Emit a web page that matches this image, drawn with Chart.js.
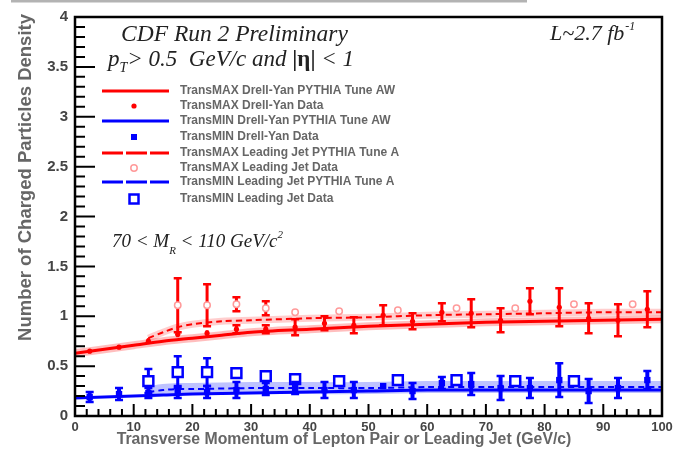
<!DOCTYPE html>
<html>
<head>
<meta charset="utf-8">
<script src="https://cdn.jsdelivr.net/npm/chart.js@4/dist/chart.umd.min.js"></script>
<style>
  html, body { margin: 0; padding: 0; background: #fff; }
  #wrap { position: relative; width: 677px; height: 457px; }
</style>
</head>
<body>
<div id="wrap"><canvas id="c" width="677" height="457"></canvas></div>
<script>
// ---- Drell-Yan bins (5 GeV/c wide) ----
const dyX = [2.5, 7.5, 12.5, 17.5, 22.5, 27.5, 32.5, 37.5, 42.5, 47.5,
             52.5, 57.5, 62.5, 67.5, 72.5, 77.5, 82.5, 87.5, 92.5, 97.5];
const dyMaxData = [0.65, 0.69, 0.75, 0.82, 0.83, 0.87, 0.87, 0.89, 0.93, 0.91,
                   1.01, 0.95, 1.04, 1.03, 0.96, 1.15, 1.09, 0.98, 0.96, 1.07];
const dyMaxErr  = [0.02, 0.02, 0.03, 0.03, 0.03, 0.04, 0.04, 0.08, 0.07, 0.08,
                   0.10, 0.08, 0.09, 0.14, 0.12, 0.13, 0.19, 0.15, 0.16, 0.18];
const dyMinData = [0.19, 0.22, 0.23, 0.24, 0.24, 0.26, 0.27, 0.28, 0.26, 0.26,
                   0.30, 0.25, 0.33, 0.32, 0.28, 0.28, 0.36, 0.25, 0.28, 0.36];
const dyMinErr  = [0.05, 0.06, 0.05, 0.06, 0.06, 0.08, 0.06, 0.06, 0.08, 0.08,
                   0.03, 0.08, 0.06, 0.11, 0.12, 0.10, 0.17, 0.12, 0.10, 0.09];

// ---- Leading-jet data ----
const ljMaxX    = [17.5, 22.5, 27.5, 32.5, 37.5, 45, 55, 65, 75, 85, 95];
const ljMaxData = [1.11, 1.11, 1.12, 1.08, 1.04, 1.05, 1.06, 1.08, 1.08, 1.12, 1.12];
const ljMaxErr  = [0.27, 0.21, 0.07, 0.07, 0.02, 0.02, 0.02, 0.02, 0.02, 0.02, 0.02];
const ljMinX    = [12.5, 17.5, 22.5, 27.5, 32.5, 37.5, 45, 55, 65, 75, 85];
const ljMinData = [0.35, 0.44, 0.44, 0.43, 0.40, 0.37, 0.35, 0.36, 0.36, 0.35, 0.35];
const ljMinErr  = [0.12, 0.16, 0.14, 0.02, 0.02, 0.02, 0.02, 0.02, 0.02, 0.02, 0.02];

// ---- PYTHIA predictions ----
const dyMaxTheoryX = [0, 5, 10, 15, 20, 25, 30, 40, 50, 60, 70, 80, 90, 100];
const dyMaxTheoryY = [0.63, 0.67, 0.71, 0.75, 0.78, 0.81, 0.84, 0.87, 0.90, 0.92, 0.94, 0.95, 0.96, 0.97];
const dyMinTheoryX = [0, 5, 10, 15, 20, 30, 40, 50, 60, 80, 100];
const dyMinTheoryY = [0.18, 0.19, 0.20, 0.21, 0.22, 0.23, 0.24, 0.25, 0.26, 0.26, 0.26];
const ljMaxTheoryX = [12.5, 15, 17.5, 20, 25, 30, 40, 50, 60, 70, 80, 90, 100];
const ljMaxTheoryY = [0.78, 0.84, 0.89, 0.92, 0.95, 0.96, 0.98, 0.99, 1.01, 1.02, 1.03, 1.04, 1.04];
const ljMinTheoryX = [12.5, 15, 17.5, 20, 30, 40, 50, 60, 70, 80, 90, 100];
const ljMinTheoryY = [0.24, 0.26, 0.27, 0.27, 0.28, 0.28, 0.28, 0.29, 0.29, 0.29, 0.29, 0.29];

// ---- axis ticks ----
const xTickLabels = ['0', '10', '20', '30', '40', '50', '60', '70', '80', '90', '100'];
const yTickLabels = ['0', '0.5', '1', '1.5', '2', '2.5', '3', '3.5', '4'];

const legendLabels = [
  'TransMAX Drell-Yan PYTHIA Tune AW',
  'TransMAX Drell-Yan Data',
  'TransMIN Drell-Yan PYTHIA Tune AW',
  'TransMIN Drell-Yan Data',
  'TransMAX Leading Jet PYTHIA Tune A',
  'TransMAX Leading Jet Data',
  'TransMIN Leading Jet PYTHIA Tune A',
  'TransMIN Leading Jet Data'
];

const RED = '#ff0000', BLUE = '#0000ff', PINK = '#ff9a9a';

const pts = (xs, ys) => xs.map((x, i) => ({ x: x, y: ys[i] }));

const datasets = [
  { id: 'ljMinBand', data: pts(ljMinTheoryX, ljMinTheoryY), borderColor: 'rgba(70,80,255,0.35)', borderWidth: 12, pointRadius: 0, order: 20, tension: 0.3 },
  { id: 'ljMaxBand', data: pts(ljMaxTheoryX, ljMaxTheoryY), borderColor: 'rgba(255,80,80,0.28)', borderWidth: 7, pointRadius: 0, order: 20, tension: 0.3 },
  { id: 'dyMaxBand', data: pts(dyMaxTheoryX, dyMaxTheoryY), borderColor: 'rgba(255,70,70,0.35)', borderWidth: 8, pointRadius: 0, order: 20, tension: 0.3 },
  { id: 'ljMinTh', data: pts(ljMinTheoryX, ljMinTheoryY), borderColor: BLUE, borderWidth: 2, borderDash: [6, 4], pointRadius: 0, order: 10, tension: 0.3 },
  { id: 'ljMaxTh', data: pts(ljMaxTheoryX, ljMaxTheoryY), borderColor: RED, borderWidth: 2, borderDash: [6, 4], pointRadius: 0, order: 10, tension: 0.3 },
  { id: 'dyMinTh', data: pts(dyMinTheoryX, dyMinTheoryY), borderColor: BLUE, borderWidth: 3, pointRadius: 0, order: 9, tension: 0.3 },
  { id: 'dyMaxTh', data: pts(dyMaxTheoryX, dyMaxTheoryY), borderColor: RED, borderWidth: 3, pointRadius: 0, order: 9, tension: 0.3 },
  { id: 'ljMinData', data: pts(ljMinX, ljMinData), err: ljMinErr, errColor: BLUE, errWidth: 3,
    showLine: false, pointStyle: 'rect', pointRadius: 7, pointBorderWidth: 2.5, pointBorderColor: BLUE, pointBackgroundColor: '#fff', order: 4 },
  { id: 'ljMaxData', data: pts(ljMaxX, ljMaxData), err: ljMaxErr, errColor: RED, errWidth: 3,
    showLine: false, pointStyle: 'circle', pointRadius: 3.2, pointBorderWidth: 1.5, pointBorderColor: PINK, pointBackgroundColor: '#fff', order: 3 },
  { id: 'dyMinData', data: pts(dyX, dyMinData), err: dyMinErr, errColor: BLUE, errWidth: 4,
    showLine: false, pointStyle: 'rect', pointRadius: 4.5, pointBorderWidth: 0, pointBackgroundColor: BLUE, order: 2 },
  { id: 'dyMaxData', data: pts(dyX, dyMaxData), err: dyMaxErr, errColor: RED, errWidth: 3,
    showLine: false, pointStyle: 'circle', pointRadius: 2.6, pointBorderWidth: 0, pointBackgroundColor: RED, order: 1 }
];
datasets.forEach(d => { d.fill = false; d.backgroundColor = d.pointBackgroundColor || 'transparent'; });

// Vertical error bars with caps, drawn just before each data set's markers.
const errorBars = {
  id: 'errorBars',
  beforeDatasetDraw(chart, args) {
    const ds = chart.data.datasets[args.index];
    if (!ds.err) return;
    const { ctx, scales: { x, y }, chartArea: a } = chart;
    ctx.save();
    ctx.beginPath(); ctx.rect(a.left, a.top, a.right - a.left, a.bottom - a.top); ctx.clip();
    ctx.strokeStyle = ds.errColor; ctx.lineWidth = ds.errWidth; ctx.lineCap = 'butt';
    ds.data.forEach((p, i) => {
      const e = ds.err[i];
      const px = x.getPixelForValue(p.x);
      const top = y.getPixelForValue(p.y + e), bot = y.getPixelForValue(p.y - e);
      ctx.beginPath(); ctx.moveTo(px, top); ctx.lineTo(px, bot); ctx.stroke();
      if (bot - top > 6) {
        ctx.lineWidth = 2.5;
        ctx.beginPath();
        ctx.moveTo(px - 4, top); ctx.lineTo(px + 4, top);
        ctx.moveTo(px - 4, bot); ctx.lineTo(px + 4, bot);
        ctx.stroke();
        ctx.lineWidth = ds.errWidth;
      }
    });
    ctx.restore();
  }
};

// Frame, inward ticks and tick labels from the chart scales.
const frame = {
  id: 'frame',
  afterDatasetsDraw(chart) {
    const { ctx, scales: { x, y }, chartArea: a } = chart;
    ctx.save();
    ctx.strokeStyle = '#000';
    ctx.lineWidth = 2.5;
    ctx.strokeRect(a.left, a.top, a.right - a.left, a.bottom - a.top);
    ctx.lineWidth = 2;
    ctx.beginPath();
    for (let v = 0; v <= 100.001; v += 2) {
      const px = x.getPixelForValue(v);
      const len = (Math.round(v) % 10 === 0) ? 12 : 7;
      ctx.moveTo(px, a.bottom); ctx.lineTo(px, a.bottom - len);
    }
    for (let i = 0; i <= 40; i++) {
      const py = y.getPixelForValue(i / 10);
      const len = (i % 5 === 0) ? 20 : 10;
      ctx.moveTo(a.left, py); ctx.lineTo(a.left + len, py);
    }
    ctx.stroke();

    ctx.fillStyle = '#444';
    ctx.font = 'bold 13px "Liberation Sans", Arial, sans-serif';
    ctx.textAlign = 'center'; ctx.textBaseline = 'middle';
    xTickLabels.forEach(t => ctx.fillText(t, x.getPixelForValue(parseFloat(t)), 427));
    ctx.font = 'bold 15px "Liberation Sans", Arial, sans-serif';
    ctx.textAlign = 'right';
    yTickLabels.forEach(t => ctx.fillText(t, 68, y.getPixelForValue(parseFloat(t))));
    ctx.restore();
  },
  afterDraw(chart) {
    const { ctx } = chart;
    ctx.save();
    // thin grey strip along the top edge
    ctx.fillStyle = '#b3b3b3';
    ctx.fillRect(11, 0, 516, 2.5);

    // axis titles
    ctx.fillStyle = '#666';
    ctx.font = 'bold 15.8px "Liberation Sans", Arial, sans-serif';
    ctx.textAlign = 'center'; ctx.textBaseline = 'middle';
    ctx.fillText('Transverse Momentum of Lepton Pair or Leading Jet (GeV/c)', 344, 440);
    ctx.save();
    ctx.translate(26, 14);
    ctx.rotate(-Math.PI / 2);
    ctx.textAlign = 'right';
    ctx.font = 'bold 18.5px "Liberation Sans", Arial, sans-serif';
    ctx.fillText('Number of Charged Particles Density', 0, 0);
    ctx.restore();

    // headers
    ctx.fillStyle = '#222';
    ctx.textAlign = 'left'; ctx.textBaseline = 'alphabetic';
    const serif = '"Liberation Serif", "Times New Roman", serif';
    ctx.font = 'italic 23.5px ' + serif;
    ctx.fillText('CDF Run 2 Preliminary', 121, 41);

    let cx = 108;
    ctx.font = 'italic 23px ' + serif;
    ctx.fillText('p', cx, 66); cx += ctx.measureText('p').width;
    ctx.font = 'italic 14px ' + serif;
    ctx.fillText('T', cx, 72); cx += ctx.measureText('T').width;
    ctx.font = 'italic 23px ' + serif;
    let s = '> 0.5  GeV/c and ';
    ctx.fillText(s, cx, 66); cx += ctx.measureText(s).width;
    ctx.font = 'bold 23px ' + serif;
    ctx.fillText('|\u03b7|', cx, 66); cx += ctx.measureText('|\u03b7|').width;
    ctx.font = 'italic 23px ' + serif;
    ctx.fillText(' < 1', cx, 66);

    cx = 550;
    ctx.font = 'italic 22px ' + serif;
    ctx.fillText('L~2.7 fb', cx, 40); cx += ctx.measureText('L~2.7 fb').width + 1;
    ctx.font = 'italic 12px ' + serif;
    ctx.fillText('-1', cx, 30);

    cx = 112;
    ctx.font = 'italic 19px ' + serif;
    s = '70 < M';
    ctx.fillText(s, cx, 247); cx += ctx.measureText(s).width;
    ctx.font = 'italic 11px ' + serif;
    ctx.fillText('R', cx, 254); cx += ctx.measureText('R').width;
    ctx.font = 'italic 19px ' + serif;
    s = ' < 110 GeV/c';
    ctx.fillText(s, cx, 247); cx += ctx.measureText(s).width;
    ctx.font = 'italic 11px ' + serif;
    ctx.fillText('2', cx, 238);

    // legend
    const rows = [91, 106, 121, 137, 153, 168, 182, 199];
    const x0 = 102, x1 = 169, mx = 134;
    const line = (yy, col, dash) => {
      ctx.save(); ctx.strokeStyle = col; ctx.lineWidth = 3; ctx.setLineDash(dash);
      ctx.beginPath(); ctx.moveTo(x0, yy); ctx.lineTo(x1, yy); ctx.stroke(); ctx.restore();
    };
    line(rows[0], RED, []);
    line(rows[2], BLUE, []);
    line(rows[4], RED, [21, 3]);
    line(rows[6], BLUE, [21, 3]);
    ctx.fillStyle = RED;
    ctx.beginPath(); ctx.arc(mx, rows[1], 2.6, 0, Math.PI * 2); ctx.fill();
    ctx.fillStyle = BLUE;
    ctx.fillRect(mx - 3, rows[3] - 3, 6, 6);
    ctx.strokeStyle = PINK; ctx.lineWidth = 1.5;
    ctx.beginPath(); ctx.arc(mx, rows[5], 3.2, 0, Math.PI * 2); ctx.stroke();
    ctx.strokeStyle = BLUE; ctx.lineWidth = 2.5;
    ctx.strokeRect(mx - 4.5, rows[7] - 4.5, 9, 9);

    ctx.fillStyle = '#666';
    ctx.font = 'bold 12px "Liberation Sans", Arial, sans-serif';
    ctx.textBaseline = 'middle';
    legendLabels.forEach((t, i) => ctx.fillText(t, 180, rows[i]));
    ctx.restore();
  }
};

new Chart(document.getElementById('c'), {
  type: 'line',
  data: { datasets },
  options: {
    responsive: false,
    animation: false,
    layout: { padding: { left: 75, right: 15, top: 17, bottom: 41 } },
    scales: {
      x: { type: 'linear', min: 0, max: 100, display: false },
      y: { type: 'linear', min: 0, max: 4, display: false }
    },
    plugins: { legend: { display: false }, tooltip: { enabled: false } }
  },
  plugins: [errorBars, frame]
});
</script>
</body>
</html>
